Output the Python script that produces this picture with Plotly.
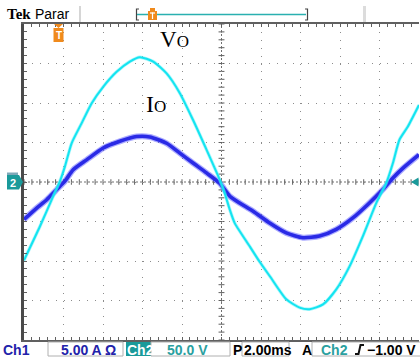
import plotly.graph_objects as go

vo_time_ms = [0.00, 0.81, 1.48, 1.82, 2.07, 2.41, 2.92, 3.42, 4.01, 4.69, 5.36, 5.87,
              6.54, 7.22, 7.89, 8.56, 9.24, 9.91, 10.16, 10.42, 10.67, 11.43, 11.93,
              12.44, 13.28, 13.96, 14.46, 15.14, 15.81, 16.49, 17.16, 17.84, 18.34,
              18.68, 19.01, 19.43, 20.00]
vo_volts = [-99, -56, -18, 1, 19.5, 49, 74.5, 99.5, 120.5, 139.5, 152.5, 158,
            152.5, 137.5, 112.5, 78.5, 41, 3, -14, -35, -52, -81.5, -101,
            -119, -148.5, -159, -161, -155, -136, -106.5, -68.5, -26.5, -1.5,
            24, 53.5, 70, 97.5]

io_time_ms = [0.00, 0.64, 1.15, 1.66, 2.07, 2.49, 3.17, 4.01, 4.85, 5.70, 6.37, 7.22,
              7.89, 8.56, 9.24, 9.91, 10.42, 10.92, 11.60, 12.44, 13.28, 14.12, 14.96,
              15.81, 16.65, 17.49, 18.17, 18.68, 19.19, 20.00]
io_amps = [-4.75, -3.3, -2.25, -0.95, 0.1, 1.55, 2.8, 4.3, 5.15, 5.75, 5.7, 4.9,
           3.65, 2.4, 1.15, -0.15, -1.8, -2.65, -3.7, -5.2, -6.45, -7.05, -6.85,
           -6.0, -4.55, -2.65, -0.95, 0.5, 1.75, 3.45]

ch1_amps_per_div = 5.0
ch2_volts_per_div = 50.0
time_per_div_ms = 2.0
n_xdiv, n_ydiv = 10, 8

status_texts = ["Ch1", "5.00 A Ω", "Ch2", "50.0 V", "P", "2.00ms", "A", "Ch2", "−1.00 V"]

# ---------------- geometry helpers ----------------
W, H = 420, 358
L, R, T, B = 24, 1, 24, 18
PW, PH = W - L - R, H - T - B


def px(x):
    return (x - L) / PW


def py(y):
    return (H - B - y) / PH


fig = go.Figure()

io_div = [a / ch1_amps_per_div for a in io_amps]
vo_div = [v / ch2_volts_per_div for v in vo_volts]

fig.add_trace(go.Scatter(x=io_time_ms, y=io_div, mode="lines", hoverinfo="skip",
                         line=dict(color="rgba(70,70,255,0.45)", width=6, shape="spline", smoothing=0.6)))
fig.add_trace(go.Scatter(x=io_time_ms, y=io_div, mode="lines", name="Io",
                         line=dict(color="#2A2AE6", width=3.6, shape="spline", smoothing=0.6)))
fig.add_trace(go.Scatter(x=vo_time_ms, y=vo_div, mode="lines", hoverinfo="skip",
                         line=dict(color="rgba(90,240,250,0.5)", width=3.4, shape="spline", smoothing=0.6)))
fig.add_trace(go.Scatter(x=vo_time_ms, y=vo_div, mode="lines", name="Vo",
                         line=dict(color="#14E4F0", width=2.0, shape="spline", smoothing=0.6)))

xmax = n_xdiv * time_per_div_ms
ymax = n_ydiv / 2
axis_col = "#606060"
fig.update_xaxes(range=[0, xmax], dtick=time_per_div_ms, tick0=0, showgrid=True,
                 gridcolor="#8c8c8c", griddash="1px,6.9px", gridwidth=1, zeroline=False,
                 showline=True, linecolor=axis_col, linewidth=2, mirror="allticks",
                 ticks="inside", ticklen=3, tickcolor=axis_col, showticklabels=False,
                 minor=dict(dtick=time_per_div_ms / 5, ticks="inside", ticklen=3,
                            tickcolor=axis_col, showgrid=False),
                 fixedrange=True)
fig.update_yaxes(range=[-ymax, ymax], dtick=1, tick0=0, showgrid=True,
                 gridcolor="#8c8c8c", griddash="1px,6.9px", gridwidth=1, zeroline=False,
                 showline=True, linecolor="#4a4a4a", linewidth=2.5, mirror=False,
                 ticks="inside", ticklen=3, tickcolor=axis_col, showticklabels=False,
                 minor=dict(dtick=0.2, ticks="inside", ticklen=3, tickcolor=axis_col, showgrid=False),
                 fixedrange=True)

shapes = []
# centre cross with ticks
shapes.append(dict(type="line", xref="x", yref="y", x0=0, x1=xmax, y0=0, y1=0, layer="below",
                   line=dict(color="#707070", width=1, dash="2px,2px")))
shapes.append(dict(type="line", xref="x", yref="y", x0=xmax / 2, x1=xmax / 2, y0=-ymax, y1=ymax,
                   layer="below", line=dict(color="#707070", width=1, dash="2px,2px")))
for i in range(n_xdiv * 5 + 1):
    xv = i * time_per_div_ms / 5
    shapes.append(dict(type="line", xref="x", yref="y", x0=xv, x1=xv, y0=-0.07, y1=0.07,
                       layer="below", line=dict(color="#606060", width=1)))
for j in range(n_ydiv * 5 + 1):
    yv = -ymax + j * 0.2
    shapes.append(dict(type="line", xref="x", yref="y", x0=xmax / 2 - 0.15, x1=xmax / 2 + 0.15,
                       y0=yv, y1=yv, layer="below", line=dict(color="#606060", width=1)))


def rect(x0, y0, x1, y1, fill, line="rgba(0,0,0,0)", lw=1):
    shapes.append(dict(type="rect", xref="paper", yref="paper", x0=px(x0), x1=px(x1),
                       y0=py(y1), y1=py(y0), fillcolor=fill, line=dict(color=line, width=lw)))


def path(points, fill=None, line="rgba(0,0,0,0)", lw=1, closed=True):
    d = "M " + " L ".join(f"{px(a):.5f},{py(b):.5f}" for a, b in points)
    if closed:
        d += " Z"
    s = dict(type="path", xref="paper", yref="paper", path=d, line=dict(color=line, width=lw))
    if fill:
        s["fillcolor"] = fill
    shapes.append(s)


teal = "#1A9A9A"
orange = "#F08A1C"
# top bar
path([(80, 6), (80, 22)], line="#C8C8C8", lw=1.5, closed=False)
path([(139, 9), (136.5, 9), (136.5, 20), (139, 20)], line="#444444", lw=1.2, closed=False)
path([(305, 9), (307.5, 9), (307.5, 20), (305, 20)], line="#444444", lw=1.2, closed=False)
path([(137, 14.5), (306, 14.5)], line="#2AB0B0", lw=1.6, closed=False)
rect(363, 6, 366, 22, "#DCDCDC")
rect(150, 8, 155, 11, orange)
rect(148, 11, 157, 20, orange)
path([(152.5, 12.5), (152.5, 19)], line="white", lw=1.2, closed=False)
path([(150, 13), (155, 13)], line="white", lw=1.2, closed=False)

# trigger position marker in graticule
path([(54, 24), (63, 24), (58.5, 28)], fill=orange)
rect(53.5, 28, 63.5, 42, orange)
# channel 2 ground marker
rect(7, 172.5, 18, 175, "#7FA8B8")
path([(7, 175), (19, 175), (23, 182), (19, 189.5), (7, 189.5)], fill=teal)
# trigger level arrow
path([(411, 182), (418.5, 177.5), (418.5, 186.5)], fill=teal)

# status bar boxes
rect(48, 342, 123, 356, "white", "#B0B0B0")
rect(126, 342, 151, 356, teal)
rect(151, 342, 230, 356, "white", "#B0B0B0")
rect(242, 342, 289, 356, "white", "#B0B0B0")
rect(312, 342, 421, 356, "white", "#B0B0B0")
path([(355, 354), (358.5, 354), (360.5, 345), (364, 345)], line="#111111", lw=2, closed=False)

fig.update_layout(shapes=shapes)

ann = []


def text(x, y, s, size=14, color="black", family="Liberation Sans", bold=True):
    ann.append(dict(xref="paper", yref="paper", x=px(x), y=py(y), xanchor="left",
                    yanchor="middle", showarrow=False, borderpad=0,
                    text=f"<b>{s}</b>" if bold else s,
                    font=dict(size=size, color=color, family=family)))


text(6, 14, "Tek", size=15, family="Liberation Serif")
text(34, 14, "Parar", size=14, bold=False)
text(54.5, 35.5, "T", size=10, color="white")
text(9, 182.5, "2", size=11, color="white")

blue_txt = "#2222AA"
text(2, 350, status_texts[0], color=blue_txt)
text(60, 350, status_texts[1], color=blue_txt)
text(126, 350, status_texts[2], color="white")
text(166, 350, status_texts[3], color="#2AA0A0")
text(232, 350, status_texts[4])
text(243, 350, status_texts[5])
text(301, 350, status_texts[6])
text(320, 350, status_texts[7], color="#2AA0A0")
text(366, 350, status_texts[8])

ann.append(dict(xref="paper", yref="paper", x=px(158), y=py(39), xanchor="left", yanchor="middle",
                showarrow=False, text="V<span style='font-size:17px'>O</span>",
                font=dict(size=23, color="black", family="Liberation Serif")))
ann.append(dict(xref="paper", yref="paper", x=px(144), y=py(104), xanchor="left", yanchor="middle",
                showarrow=False, text="I<span style='font-size:17px'>O</span>",
                font=dict(size=24, color="black", family="Liberation Serif")))

fig.update_layout(annotations=ann, width=W, height=H,
                  margin=dict(l=L, r=R, t=T, b=B, pad=0),
                  paper_bgcolor="white", plot_bgcolor="white", showlegend=False)

fig.write_html("out.html", config={"displayModeBar": False},
               post_script="document.body.style.margin='0';document.body.style.overflow='hidden';")
